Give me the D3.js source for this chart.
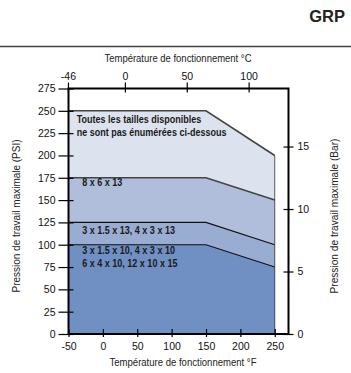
<!DOCTYPE html>
<html>
<head>
<meta charset="utf-8">
<script src="https://cdn.jsdelivr.net/npm/d3@7"></script>
<style>
  body { margin: 0; background: #fff; }
  svg { display: block; }
  .tick text { font-family: "Liberation Sans", Arial, sans-serif; font-size: 10.5px; fill: #111; }
</style>
</head>
<body>
<svg id="chart" width="351" height="373"></svg>
<script>
// ---- data ----
const tempF = [-50, 150, 250];
const bandAll = [250, 250, 200];
const band8x6 = [175, 175, 150];
const band3x13 = [125, 125, 100];
const band3x10 = [100, 100, 75];
const fTicks = [-50, 0, 50, 100, 150, 200, 250];
const cTicks = [-46, 0, 50, 100];
const psiTicks = [0, 25, 50, 75, 100, 125, 150, 175, 200, 225, 250, 275];
const barTicks = [0, 5, 10, 15];
const psiPerBar = 14.0;
const labelLines = [
  ["Toutes les tailles disponibles", "ne sont pas énumérées ci-dessous"],
  ["8 x 6 x 13"],
  ["3 x 1.5 x 13, 4 x 3 x 13"],
  ["3 x 1.5 x 10, 4 x 3 x 10", "6 x 4 x 10, 12 x 10 x 15"]
];
const labelPsi = [[241, 226], [170], [116], [94, 79]];
const labelF = [-38, -30, -30, -30];

// ---- styles ----
const colors = ["#dde2ef", "#b0bedb", "#99acd2", "#7090c4"];
const lineColors = ["#444", "#444", "#111", "#111"];
const lineWidths = [1.6, 1.6, 1.2, 1.2];

const svg = d3.select("#chart");
const pLeft = 68.5, pRight = 288.5, pTop = 88.5, pBottom = 334;

const x = d3.scaleLinear().domain([-50, 270]).range([pLeft, pRight]);
const xC = d3.scaleLinear().domain([(-50 - 32) / 1.8, (270 - 32) / 1.8]).range([pLeft, pRight]);
const y = d3.scaleLinear().domain([0, 275]).range([pBottom, pTop]);
const yBar = d3.scaleLinear().domain([0, 275 / psiPerBar]).range([pBottom, pTop]);
const fmt = d => String(d);

// header
svg.append("text").attr("x", 345).attr("y", 22).attr("text-anchor", "end")
  .style("font-family", "'Liberation Sans', Arial, sans-serif").style("font-weight", "bold")
  .style("font-size", "16.5px").attr("fill", "#222").text("GRP");
svg.append("line").attr("x1", 0).attr("x2", 351).attr("y1", 46.5).attr("y2", 46.5)
  .attr("stroke", "#444").attr("stroke-width", 1.6);

// bands
const series = [bandAll, band8x6, band3x13, band3x10];
const area = d3.area().x((d, i) => x(tempF[i])).y0(y(0)).y1(d => y(d));
const line = d3.line().x((d, i) => x(tempF[i])).y(d => y(d));
series.forEach((s, k) => {
  svg.append("path").attr("d", area(s)).attr("fill", colors[k]);
});
series.forEach((s, k) => {
  svg.append("path").attr("d", line(s)).attr("fill", "none")
    .attr("stroke", lineColors[k]).attr("stroke-width", lineWidths[k]);
});
svg.append("line").attr("x1", x(250)).attr("x2", x(250)).attr("y1", y(bandAll[2])).attr("y2", y(0))
  .attr("stroke", "#333").attr("stroke-width", 0.8);

// labels
labelLines.forEach((lines, k) => {
  lines.forEach((t, j) => {
    const tx = x(labelF[k]);
    svg.append("text").attr("transform", `translate(${tx},${y(labelPsi[k][j])}) scale(0.82,1)`)
      .attr("dy", "0.35em")
      .style("font-family", "'Liberation Sans', Arial, sans-serif").style("font-weight", "bold")
      .style("font-size", "11px").attr("fill", "#1a1a1a").text(t);
  });
});

// bottom F
const gB = svg.append("g").attr("transform", `translate(0,${pBottom})`)
  .call(d3.axisBottom(x).tickValues(fTicks).tickSize(3).tickPadding(6).tickFormat(fmt));
gB.select(".domain").remove();
gB.selectAll(".tick line").attr("y1", -5).attr("y2", 3).attr("stroke", "#000").attr("stroke-width", 1.2);

// top C
const gT = svg.append("g").attr("transform", `translate(0,${pTop})`)
  .call(d3.axisTop(xC).tickValues(cTicks).tickSize(6).tickPadding(3).tickFormat(fmt));
gT.select(".domain").remove();
gT.selectAll(".tick line").attr("y1", -6).attr("y2", 4).attr("stroke", "#000").attr("stroke-width", 1.2);

// left PSI
const gL = svg.append("g").attr("transform", `translate(${pLeft},0)`)
  .call(d3.axisLeft(y).tickValues(psiTicks).tickSize(10).tickPadding(3).tickFormat(fmt));
gL.select(".domain").remove();
gL.selectAll(".tick line").attr("x1", -10).attr("x2", 5).attr("stroke", "#000").attr("stroke-width", 1.2);

// right bar
const gR = svg.append("g").attr("transform", `translate(${pRight},0)`)
  .call(d3.axisRight(yBar).tickValues(barTicks).tickSize(5).tickPadding(4).tickFormat(fmt));
gR.select(".domain").remove();
gR.selectAll(".tick line").attr("x1", -5).attr("x2", 5).attr("stroke", "#000").attr("stroke-width", 1.2);

// frame
svg.append("rect").attr("x", pLeft).attr("y", pTop).attr("width", pRight - pLeft).attr("height", pBottom - pTop)
  .attr("fill", "none").attr("stroke", "#000").attr("stroke-width", 2);

// titles
function title(txt, tx, ty, rot, len) {
  svg.append("text").attr("transform", `translate(${tx},${ty}) rotate(${rot})`)
    .attr("text-anchor", "middle").attr("dy", "0.35em")
    .attr("textLength", len).attr("lengthAdjust", "spacingAndGlyphs")
    .style("font-family", "'Liberation Sans', Arial, sans-serif").style("font-size", "10.5px")
    .attr("fill", "#222").text(txt);
}
title("Température de fonctionnement °C", 178, 58, 0, 147);
title("Température de fonctionnement °F", 183, 362, 0, 147);
title("Pression de travail maximale (PSI)", 16, 216, -90, 153);
title("Pression de travail maximale (Bar)", 334, 216, -90, 155);
</script>
</body>
</html>
